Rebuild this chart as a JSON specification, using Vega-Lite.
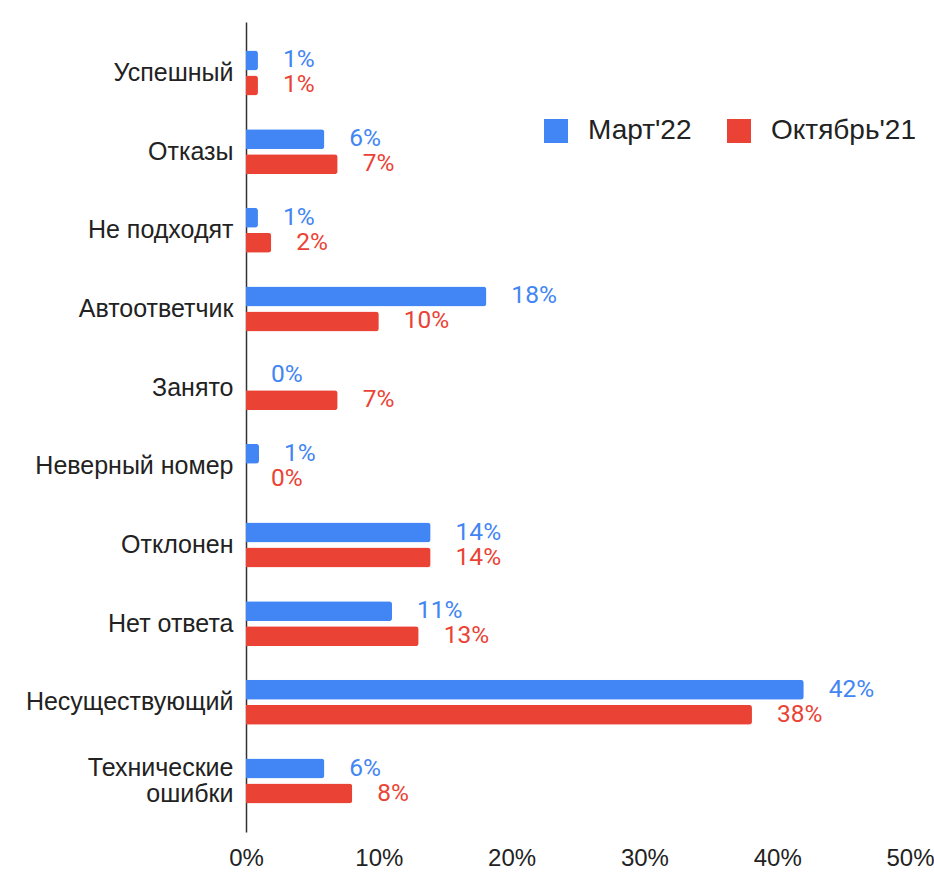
{
  "$schema": "https://vega.github.io/schema/vega-lite/v6.json",
  "width": 664,
  "height": 810,
  "autosize": {"type": "none"},
  "padding": {"left": 246, "top": 22, "right": 24, "bottom": 49},
  "background": "white",
  "config": {"view": {"stroke": null}, "font": "Liberation Sans"},
  "data": {
    "values": [
      {"category": "Успешный", "series": "Март'22", "value": 0.009},
      {"category": "Успешный", "series": "Октябрь'21", "value": 0.009},
      {"category": "Отказы", "series": "Март'22", "value": 0.059},
      {"category": "Отказы", "series": "Октябрь'21", "value": 0.069},
      {"category": "Не подходят", "series": "Март'22", "value": 0.009},
      {"category": "Не подходят", "series": "Октябрь'21", "value": 0.019},
      {"category": "Автоответчик", "series": "Март'22", "value": 0.181},
      {"category": "Автоответчик", "series": "Октябрь'21", "value": 0.1},
      {"category": "Занято", "series": "Март'22", "value": 0.0},
      {"category": "Занято", "series": "Октябрь'21", "value": 0.069},
      {"category": "Неверный номер", "series": "Март'22", "value": 0.0098},
      {"category": "Неверный номер", "series": "Октябрь'21", "value": 0.0},
      {"category": "Отклонен", "series": "Март'22", "value": 0.139},
      {"category": "Отклонен", "series": "Октябрь'21", "value": 0.139},
      {"category": "Нет ответа", "series": "Март'22", "value": 0.11},
      {"category": "Нет ответа", "series": "Октябрь'21", "value": 0.13},
      {"category": "Несуществующий", "series": "Март'22", "value": 0.42},
      {"category": "Несуществующий", "series": "Октябрь'21", "value": 0.381},
      {"category": "Технические ошибки", "series": "Март'22", "value": 0.059},
      {"category": "Технические ошибки", "series": "Октябрь'21", "value": 0.08}
    ]
  },
  "encoding": {
    "y": {
      "field": "category",
      "type": "nominal",
      "sort": ["Успешный", "Отказы", "Не подходят", "Автоответчик", "Занято", "Неверный номер", "Отклонен", "Нет ответа", "Несуществующий", "Технические ошибки"],
      "scale": {"paddingInner": 0, "paddingOuter": 0.148},
      "axis": {
        "title": null,
        "ticks": false,
        "domainColor": "#333333",
        "domainWidth": 1.5,
        "labelFont": "Liberation Sans",
        "labelFontSize": 25,
        "labelColor": "#222222",
        "labelPadding": 13,
        "labelLineHeight": 26,
        "labelLimit": 300,
        "labelOffset": {"condition": {"test": "datum.label == 'Технические ошибки'", "value": -13}, "value": 0},
        "labelExpr": "datum.label == 'Технические ошибки' ? ['Технические', 'ошибки'] : datum.label"
      }
    },
    "yOffset": {
      "field": "series",
      "type": "nominal",
      "sort": ["Март'22", "Октябрь'21"],
      "scale": {"paddingInner": 0.2, "paddingOuter": 0.674}
    },
    "x": {
      "field": "value",
      "type": "quantitative",
      "scale": {"domain": [0, 0.5], "nice": false},
      "axis": {
        "title": null,
        "format": ".0%",
        "values": [0, 0.1, 0.2, 0.3, 0.4, 0.5],
        "grid": false,
        "domain": false,
        "ticks": false,
        "labelFont": "Liberation Sans",
        "labelFontSize": 24,
        "labelColor": "#222222",
        "labelPadding": 14,
        "labelFlush": false
      }
    },
    "color": {
      "field": "series",
      "type": "nominal",
      "scale": {"domain": ["Март'22", "Октябрь'21"], "range": ["#4285F4", "#EA4335"]},
      "legend": {
        "title": null,
        "orient": "none",
        "direction": "horizontal",
        "legendX": 296,
        "legendY": 95,
        "symbolType": "square",
        "symbolSize": 576,
        "symbolStrokeWidth": 0,
        "symbolOpacity": 1,
        "labelFont": "Liberation Sans",
        "labelFontSize": 28,
        "labelColor": "#222222",
        "labelOffset": 18,
        "columnPadding": 33,
        "labelLimit": 300
      }
    }
  },
  "layer": [
    {"mark": {"type": "bar", "cornerRadiusEnd": 3}},
    {
      "mark": {"type": "text", "align": "left", "baseline": "middle", "dx": 25, "font": "Roboto", "fontSize": 24.5},
      "encoding": {"text": {"field": "value", "type": "quantitative", "format": ".0%"}}
    }
  ]
}
